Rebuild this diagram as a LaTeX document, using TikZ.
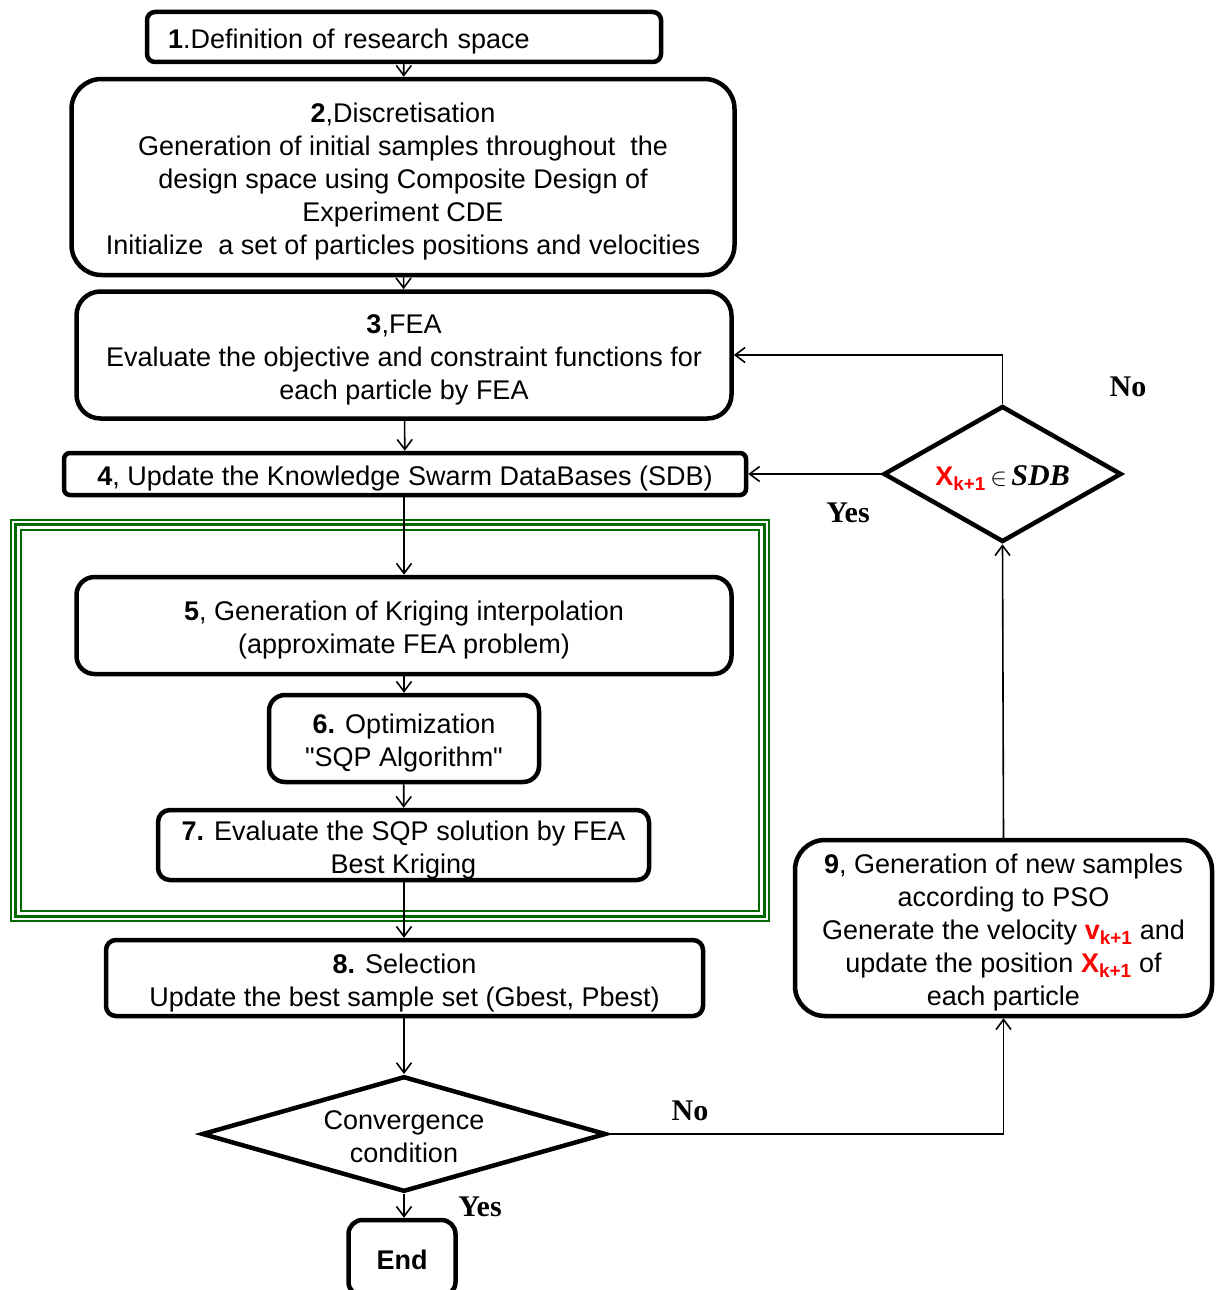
\documentclass[tikz,border=0pt]{standalone}
\usepackage{fontspec}
\setmainfont{Liberation Sans}
\newfontfamily\qfont{Liberation Sans}
\newfontfamily\lbserif{Liberation Serif}
\usetikzlibrary{arrows.meta,shapes.geometric}
\definecolor{frgreen}{RGB}{0,105,0}
\definecolor{hired}{RGB}{255,0,0}
\newcommand{\tb}{\rule{0pt}{30pt}}
\newcommand{\te}{\rule[-6.6pt]{0pt}{0pt}}
\tikzset{
  fbox/.style={draw, line width=4.5pt, align=center, inner sep=0pt, font=\fontsize{27}{33}\selectfont},
  dbox/.style={draw, diamond, line width=4.5pt, align=center, inner sep=0pt, font=\fontsize{27}{33}\selectfont},
  conn/.style={line width=1.6pt, -{Straight Barb[length=10pt,width=15pt,line width=1.6pt]}},
  lbl/.style={font=\lbserif\bfseries\fontsize{30}{34}\selectfont},
  gline/.style={draw=frgreen, line width=2.4pt}
}
\newcommand{\rsub}[1]{\textcolor{hired}{\textbf{#1}}}
\newcommand{\sq}{{\qfont"}}
\begin{document}
\begin{tikzpicture}[x=1pt,y=-1pt]
\clip (0,0) rectangle (1216,1290);
\fill[white] (0,0) rectangle (1216,1290);
% green triple frame
\draw[gline] (11,520) rectangle (769,921);
\draw[gline] (15.5,524.5) rectangle (764.5,916.5);
\draw[gline] (21,530) rectangle (759,911);
% nodes
\node[fbox, rounded corners=8pt, minimum width=514, minimum height=50, align=left, text width=472, inner xsep=21pt] (n1) at (404,37) {\tb\textbf{1}.Definition of research space\te};
\node[fbox, rounded corners=30pt, minimum width=663, minimum height=196] (n2) at (403,177) {\tb\textbf{2},Discretisation\\Generation of initial samples throughout\ \ the\\design space using\ Composite Design of\\Experiment CDE\\Initialize\ \ a set of particles positions and velocities\te};
\node[fbox, rounded corners=24pt, minimum width=655, minimum height=127] (n3) at (404,355) {\tb\textbf{3},FEA\\Evaluate the objective and constraint functions for\\each particle by FEA\te};
\node[fbox, rounded corners=6pt, minimum width=682, minimum height=42] (n4) at (405,474) {\tb\textbf{4}, Update the Knowledge Swarm DataBases (SDB)\te};
\node[fbox, rounded corners=18pt, minimum width=655, minimum height=97] (n5) at (404,625.5) {\tb\textbf{5}, Generation of Kriging interpolation\\(approximate FEA problem)\te};
\node[fbox, rounded corners=16pt, minimum width=270, minimum height=87] (n6) at (404,738.5) {\tb\textbf{6.} Optimization\\\sq SQP Algorithm\sq\te};
\node[fbox, rounded corners=12pt, minimum width=491, minimum height=70] (n7) at (403.5,845) {\tb\textbf{7.} Evaluate the SQP solution by FEA\\Best Kriging\te};
\node[fbox, rounded corners=10pt, minimum width=597, minimum height=76] (n8) at (404.5,978) {\tb\textbf{8.} Selection\\Update the best sample set (Gbest, Pbest)\te};
\node[dbox, aspect=3.5, minimum width=400, minimum height=112] (conv) at (404,1134) {\tb Convergence\\condition\te};
\node[fbox, rounded corners=14pt, minimum width=107, minimum height=76] (nend) at (402,1258) {\tb\textbf{End}\te};
\node[fbox, rounded corners=30pt, minimum width=417, minimum height=176] (n9) at (1003.5,928) {\tb\textbf{9}, Generation of new samples\\according to PSO\\Generate the velocity \rsub{v\textsubscript{k+1}} and\\update the position \rsub{X\textsubscript{k+1}} of\\each particle\te};
\node[dbox, aspect=1.74, minimum width=238, minimum height=136] (sdb) at (1002.5,474) {\tb\rsub{X\textsubscript{k+1}}\,{\fontsize{30}{33}\selectfont$\in$}\,{\lbserif\bfseries\itshape\fontsize{30}{33}\selectfont SDB}\te};
% connectors
\draw[conn] (n1) -- (n2);
\draw[conn] (n2) -- (n3);
\draw[conn] (n3) -- (n4);
\draw[conn] (n4.south -| n5.north) -- (n5);
\draw[conn] (n5) -- (n6);
\draw[conn] (n6) -- (n7);
\draw[conn] (n7.south -| conv.north) -- (n8.north -| conv.north);
\draw[conn] (n8.south -| conv.north) -- (conv.north);
\draw[conn] (conv.south) -- (conv.south |- nend.north);
\draw[conn] (conv.east) -| (n9.south);
\draw[conn] (n9.north) -- (sdb.south);
\draw[conn] (sdb.west) -- (n4.east);
\draw[conn] (sdb.north) |- (n3.east);
% labels
\node[lbl] (lno1) at (1128,387) {No};
\node[lbl] (lyes1) at (848,513) {Yes};
\node[lbl] (lno2) at (690,1111) {No};
\node[lbl] (lyes2) at (480,1207) {Yes};
\end{tikzpicture}
\end{document}
